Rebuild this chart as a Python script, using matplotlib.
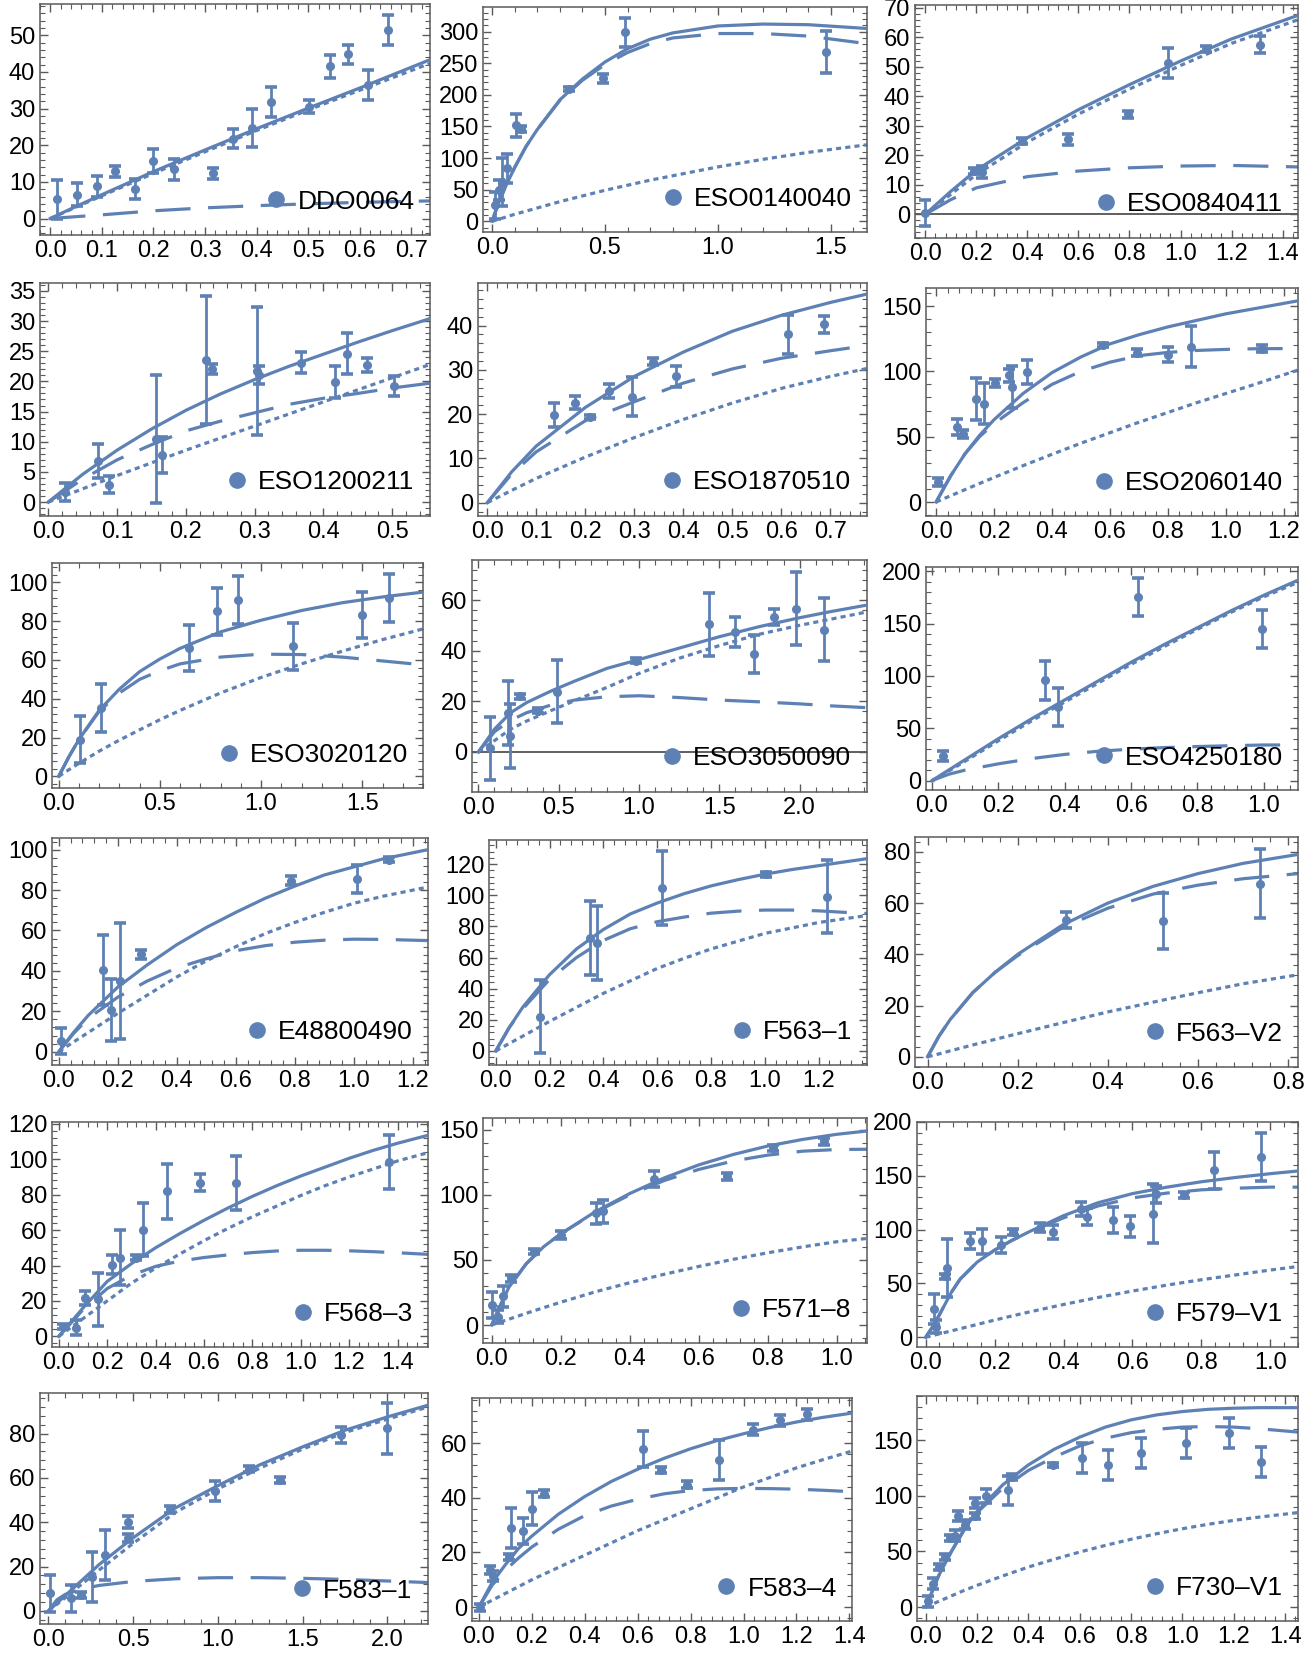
import matplotlib
matplotlib.use('Agg')
import matplotlib.pyplot as plt
from matplotlib.lines import Line2D
from matplotlib.ticker import AutoMinorLocator, FixedLocator, FuncFormatter

plt.rcParams['font.family'] = ['Liberation Sans', 'DejaVu Sans']

# ---------------- data ----------------
# 1 DDO0064
p01_name = "DDO0064"
p01_r = [0.013, 0.052, 0.09, 0.126, 0.164, 0.2, 0.239, 0.316, 0.354, 0.39, 0.427, 0.502, 0.542, 0.578, 0.615, 0.655]
p01_v = [5.2, 6.5, 8.8, 12.9, 8.0, 15.7, 13.4, 12.3, 21.8, 24.7, 31.8, 30.5, 41.5, 44.8, 36.5, 51.5]
p01_e = [5.3, 3.2, 2.8, 1.5, 2.8, 3.3, 2.8, 1.4, 2.6, 5.2, 4.1, 1.8, 3.1, 2.6, 4.1, 4.1]
p01_grid = [0, 0.05, 0.1, 0.2, 0.3, 0.4, 0.5, 0.6, 0.736]
p01_total = [0, 3.3, 6.5, 12.8, 18.7, 24.5, 30.1, 35.6, 43.3]
p01_dash = [0, 0.5, 1.0, 2.1, 2.9, 3.5, 4.0, 4.4, 4.8]
p01_dot = [0, 3.1, 6.2, 12.3, 18.2, 24.0, 29.6, 35.0, 42.3]
p01_xt = [0.0, 0.1, 0.2, 0.3, 0.4, 0.5, 0.6, 0.7]
p01_yt = [0, 10, 20, 30, 40, 50]

# 2 ESO0140040
p02_name = "ESO0140040"
p02_r = [0.015, 0.03, 0.045, 0.065, 0.105, 0.13, 0.34, 0.49, 0.59, 1.48]
p02_v = [25, 50, 62, 84, 152, 146, 209, 226, 299, 268]
p02_e = [22, 16, 38, 23, 18, 5, 3, 7, 23, 33]
p02_grid = [0, 0.03, 0.06, 0.1, 0.15, 0.2, 0.3, 0.4, 0.5, 0.6, 0.7, 0.8, 1.0, 1.2, 1.4, 1.66]
p02_total = [0, 30, 55, 85, 118, 145, 192, 225, 252, 273, 288, 298, 309, 312, 311, 305]
p02_dash = [0, 30, 55, 85, 118, 145, 191, 223, 248, 267, 281, 290, 297, 297, 293, 281]
p02_dot = [0, 3.2, 6.5, 11, 16, 21, 31, 40, 49, 57, 65, 72, 86, 98, 109, 121]
p02_xt = [0.0, 0.5, 1.0, 1.5]
p02_yt = [0, 50, 100, 150, 200, 250, 300]

# 3 ESO0840411
p03_name = "ESO0840411"
p03_r = [0.0, 0.19, 0.224, 0.38, 0.56, 0.794, 0.95, 1.1, 1.31]
p03_v = [0.5, 14.7, 14.3, 24.8, 25.4, 33.9, 51.4, 56.1, 57.6]
p03_e = [4.5, 1.0, 2.0, 1.0, 1.7, 1.2, 5.0, 1.0, 3.0]
p03_grid = [0, 0.1, 0.2, 0.4, 0.6, 0.8, 1.0, 1.2, 1.46]
p03_total = [0, 7.8, 15, 26, 35.5, 44, 52, 59.5, 67.5]
p03_dash = [0, 5, 9, 12.8, 14.7, 15.8, 16.4, 16.6, 16.1]
p03_dot = [0, 6.8, 13.5, 24.5, 34, 42.5, 50.5, 58, 66]
p03_xt = [0.0, 0.2, 0.4, 0.6, 0.8, 1.0, 1.2, 1.4]
p03_yt = [0, 10, 20, 30, 40, 50, 60, 70]

# 4 ESO1200211
p04_name = "ESO1200211"
p04_r = [0.024, 0.073, 0.089, 0.156, 0.165, 0.229, 0.238, 0.304, 0.307, 0.367, 0.417, 0.434, 0.463, 0.502]
p04_v = [1.7, 6.8, 2.9, 10.5, 7.8, 23.6, 22, 21.7, 21, 23.1, 19.9, 24.6, 22.7, 19.2]
p04_e = [1.5, 2.8, 1.4, 10.6, 3, 10.6, 0.8, 10.6, 1.5, 1.7, 2.7, 3.4, 1.2, 1.7]
p04_grid = [0, 0.05, 0.1, 0.15, 0.2, 0.25, 0.3, 0.35, 0.4, 0.45, 0.5, 0.555]
p04_total = [0, 4.6, 8.6, 12.1, 15.2, 17.9, 20.3, 22.5, 24.5, 26.5, 28.4, 30.4]
p04_dash = [0, 3.8, 7, 9.5, 11.8, 13.4, 14.8, 16.2, 17.2, 18, 18.9, 19.7]
p04_dot = [0, 2.2, 4.4, 6.5, 8.6, 10.6, 12.6, 14.6, 16.6, 18.6, 20.6, 22.8]
p04_xt = [0.0, 0.1, 0.2, 0.3, 0.4, 0.5]
p04_yt = [0, 5, 10, 15, 20, 25, 30, 35]

# 5 ESO1870510
p05_name = "ESO1870510"
p05_r = [0.136, 0.179, 0.21, 0.248, 0.296, 0.339, 0.386, 0.614, 0.688]
p05_v = [19.8, 22.6, 19.3, 25.2, 23.9, 31.8, 28.5, 38.0, 40.3]
p05_e = [2.7, 1.4, 0.5, 1.5, 4.4, 0.8, 2.3, 4.4, 1.9]
p05_grid = [0, 0.05, 0.1, 0.2, 0.3, 0.4, 0.5, 0.6, 0.7, 0.775]
p05_total = [0, 7, 12.8, 21.5, 28.5, 34, 38.7, 42.3, 45.2, 47.1]
p05_dash = [0, 6.5, 11.5, 18.5, 22.8, 27, 30.2, 32.6, 34.3, 35.5]
p05_dot = [0, 2.8, 5.5, 10.3, 14.7, 18.8, 22.5, 25.8, 28.5, 30.3]
p05_xt = [0.0, 0.1, 0.2, 0.3, 0.4, 0.5, 0.6, 0.7]
p05_yt = [0, 10, 20, 30, 40]

# 6 ESO2060140
p06_name = "ESO2060140"
p06_r = [0.006, 0.073, 0.093, 0.137, 0.166, 0.204, 0.253, 0.262, 0.314, 0.576, 0.693, 0.8, 0.88, 1.127]
p06_v = [15.3, 57.4, 52.3, 79, 75.3, 91.3, 97, 88, 99.5, 120, 114.3, 112.8, 119, 117.3]
p06_e = [3, 6.4, 3, 16, 15.5, 3, 5, 16, 9, 1.5, 2.5, 5.5, 16, 2.5]
p06_grid = [0, 0.05, 0.1, 0.15, 0.2, 0.3, 0.4, 0.5, 0.6, 0.7, 0.8, 0.9, 1.0, 1.1, 1.25]
p06_total = [0, 20, 37, 51, 63, 83, 99, 111, 121, 128, 134, 139, 144, 148, 154]
p06_dash = [0, 20, 37, 50, 60, 76, 90, 100, 107, 112, 114.5, 116, 116.8, 117.3, 117.5]
p06_dot = [0, 4.8, 9.5, 14.2, 18.8, 27.8, 36.5, 45, 53, 61, 68.5, 76, 83, 90, 101]
p06_xt = [0.0, 0.2, 0.4, 0.6, 0.8, 1.0, 1.2]
p06_yt = [0, 50, 100, 150]

# 7 ESO3020120
p07_name = "ESO3020120"
p07_r = [0.104, 0.208, 0.646, 0.783, 0.888, 1.158, 1.5, 1.633]
p07_v = [18.9, 35.2, 66.2, 85, 91, 67, 83.3, 92]
p07_e = [12.2, 12.3, 12, 12.2, 12.3, 12.2, 12, 12.3]
p07_grid = [0, 0.05, 0.1, 0.2, 0.3, 0.4, 0.5, 0.6, 0.8, 1.0, 1.2, 1.4, 1.6, 1.8]
p07_total = [0, 10, 19, 34, 45, 54, 60.5, 66, 74.5, 80.5, 85.5, 89.5, 92.5, 95]
p07_dash = [0, 10, 19, 33.5, 43, 50, 54.5, 58, 61.5, 63, 62.8, 61.5, 59.5, 57.5]
p07_dot = [0, 3.4, 6.7, 13, 18.7, 24, 29.2, 34, 43, 51, 58, 64.5, 70.5, 76]
p07_xt = [0.0, 0.5, 1.0, 1.5]
p07_yt = [0, 20, 40, 60, 80, 100]

# 8 ESO3050090
p08_name = "ESO3050090"
p08_r = [0.075, 0.185, 0.195, 0.26, 0.37, 0.49, 0.98, 1.435, 1.6, 1.715, 1.84, 1.98, 2.15]
p08_v = [1.4, 15.4, 6.2, 22, 16.3, 23.8, 36, 50.4, 47.4, 38.8, 53.3, 56.6, 48.3]
p08_e = [12.6, 12.6, 12.6, 1, 1, 12.4, 1, 12.5, 6, 7.5, 3, 14.5, 12.5]
p08_grid = [0, 0.1, 0.2, 0.3, 0.45, 0.6, 0.8, 1.0, 1.25, 1.5, 1.75, 2.0, 2.2, 2.42]
p08_total = [0, 9, 15.5, 19.5, 24, 28, 33, 36.5, 41, 45.5, 49.5, 53, 55.5, 58]
p08_dash = [0, 8, 12.5, 15.5, 18.5, 20.5, 21.8, 22.2, 21.5, 20.5, 19.8, 19, 18.2, 17.5]
p08_dot = [0, 4.5, 9, 12.2, 16.3, 20.3, 25.5, 31, 37, 42, 46.5, 50, 52.5, 55.3]
p08_xt = [0.0, 0.5, 1.0, 1.5, 2.0]
p08_yt = [0, 20, 40, 60]

# 9 ESO4250180
p09_name = "ESO4250180"
p09_r = [0.033, 0.342, 0.38, 0.62, 0.995]
p09_v = [23.6, 95.7, 70.2, 175.4, 144.8]
p09_e = [4.5, 18.5, 18.3, 18.3, 18]
p09_grid = [0, 0.05, 0.1, 0.2, 0.3, 0.4, 0.5, 0.6, 0.7, 0.8, 0.9, 1.0, 1.1]
p09_total = [0, 10, 20, 40, 59, 77, 95, 113, 130, 146, 162, 177, 191]
p09_dash = [0, 6, 10, 16, 21, 25, 28, 30, 31.5, 32.5, 33.3, 34, 34]
p09_dot = [0, 9, 18.5, 38, 57, 75, 93, 111, 128, 144.5, 160.5, 175.5, 189]
p09_xt = [0.0, 0.2, 0.4, 0.6, 0.8, 1.0]
p09_yt = [0, 50, 100, 150, 200]

# 10 E48800490
p10_name = "E48800490"
p10_r = [0.006, 0.151, 0.177, 0.206, 0.28, 0.786, 1.009, 1.12]
p10_v = [5.3, 40.5, 20.7, 35, 48.3, 84.6, 85.6, 95]
p10_e = [6.6, 17.5, 15.5, 28.5, 2.2, 2.3, 7, 1.2]
p10_grid = [0, 0.05, 0.1, 0.2, 0.3, 0.4, 0.5, 0.6, 0.7, 0.8, 0.9, 1.0, 1.1, 1.25]
p10_total = [0, 9.5, 18, 32, 43, 53, 61.5, 69, 76, 82, 87.5, 91.5, 95.5, 100]
p10_dash = [0, 9, 16.5, 27, 35, 41.5, 46, 50, 52.5, 54.2, 55.2, 55.7, 55.6, 55]
p10_dot = [0, 4.8, 9.5, 19, 28, 37, 45, 52, 58.5, 64, 69, 73.5, 77, 81.5]
p10_xt = [0.0, 0.2, 0.4, 0.6, 0.8, 1.0, 1.2]
p10_yt = [0, 20, 40, 60, 80, 100]

# 11 F563-1
p11_name = "F563\u20131"
p11_r = [0.163, 0.352, 0.377, 0.619, 1.005, 1.23]
p11_v = [22, 72.4, 69.2, 104.5, 113.5, 99.1]
p11_e = [23.5, 23.9, 23.8, 23.8, 1.5, 23.5]
p11_grid = [0, 0.05, 0.1, 0.2, 0.3, 0.4, 0.5, 0.6, 0.7, 0.8, 0.9, 1.0, 1.1, 1.2, 1.3, 1.38]
p11_total = [0, 15, 28, 49, 65.5, 78, 88, 95, 101, 106, 110, 113.5, 116.5, 119, 121.5, 123.5]
p11_dash = [0, 15, 27, 46, 60, 71, 78.5, 83, 86, 88.5, 89.8, 90.5, 90.5, 90, 89, 88.3]
p11_dot = [0, 4.8, 9.5, 19, 28, 37, 45, 53, 59.5, 65.5, 70.5, 75.5, 79, 82.5, 85, 87]
p11_xt = [0.0, 0.2, 0.4, 0.6, 0.8, 1.0, 1.2]
p11_yt = [0, 20, 40, 60, 80, 100, 120]

# 12 F563-V2
p12_name = "F563\u2013V2"
p12_r = [0.308, 0.523, 0.738]
p12_v = [53.3, 52.9, 67.6]
p12_e = [3.1, 10.9, 13.5]
p12_grid = [0, 0.025, 0.05, 0.1, 0.15, 0.2, 0.3, 0.4, 0.5, 0.6, 0.7, 0.822]
p12_total = [0, 8, 14.5, 25, 33, 40, 51.5, 60, 66.5, 71.5, 75.5, 79]
p12_dash = [0, 8, 14.5, 25, 33, 39.5, 50.5, 58, 63.5, 67, 69.5, 71.5]
p12_dot = [0, 1.1, 2.3, 4.6, 6.8, 9, 13.3, 17.5, 21.3, 25, 28.5, 32]
p12_xt = [0.0, 0.2, 0.4, 0.6, 0.8]
p12_yt = [0, 20, 40, 60, 80]

# 13 F568-3
p13_name = "F568\u20133"
p13_r = [0.017, 0.07, 0.11, 0.164, 0.22, 0.254, 0.32, 0.348, 0.446, 0.585, 0.732, 1.366]
p13_v = [5.5, 5, 21.5, 21, 40.4, 44.5, 44.5, 60.3, 81.8, 86.8, 86.4, 98.5]
p13_e = [1.5, 4.5, 4, 15, 5.4, 15.3, 1.5, 15.2, 15.3, 4.6, 15.2, 15.3]
p13_grid = [0, 0.1, 0.2, 0.3, 0.4, 0.5, 0.6, 0.7, 0.8, 0.9, 1.0, 1.1, 1.2, 1.3, 1.4, 1.526]
p13_total = [0, 16, 31, 41, 50, 58, 65.5, 72.5, 79, 85, 90.5, 95.5, 100.5, 105, 109, 113.5]
p13_dash = [0, 15, 27, 34.5, 39.5, 42.5, 44.5, 46, 47.3, 48.2, 48.6, 48.6, 48.3, 47.8, 47.2, 46.3]
p13_dot = [0, 10, 20, 30, 38.5, 46.5, 54, 61, 67.5, 73.5, 79.5, 85, 90, 94.5, 99, 103.7]
p13_xt = [0.0, 0.2, 0.4, 0.6, 0.8, 1.0, 1.2, 1.4]
p13_yt = [0, 20, 40, 60, 80, 100, 120]

# 14 F571-8
p14_name = "F571\u20138"
p14_r = [0.0, 0.017, 0.032, 0.055, 0.124, 0.2, 0.303, 0.323, 0.471, 0.682, 0.814, 0.963]
p14_v = [15.4, 6.4, 22, 35.9, 56.4, 69.2, 85.9, 87.2, 112, 114.1, 135.9, 141]
p14_e = [10, 5, 8, 2.6, 2, 3, 8, 9, 6, 3, 2, 2.5]
p14_grid = [0, 0.025, 0.05, 0.1, 0.15, 0.2, 0.3, 0.4, 0.5, 0.6, 0.7, 0.8, 0.9, 1.0, 1.087]
p14_total = [0, 15, 29, 47, 60, 70, 87, 101, 113, 123, 131, 137.5, 142.5, 146.5, 149]
p14_dash = [0, 15, 29, 47, 60, 70, 86.5, 100, 111, 119.5, 126, 130.5, 133.5, 134.8, 135]
p14_dot = [0, 2.3, 4.5, 9, 13.3, 17.5, 25.5, 32.5, 39, 45, 50.5, 55.5, 60, 64, 66.5]
p14_xt = [0.0, 0.2, 0.4, 0.6, 0.8, 1.0]
p14_yt = [0, 50, 100, 150]

# 15 F579-V1
p15_name = "F579\u2013V1"
p15_r = [0.025, 0.03, 0.056, 0.062, 0.129, 0.163, 0.22, 0.254, 0.332, 0.369, 0.45, 0.467, 0.543, 0.593, 0.66, 0.668, 0.75, 0.835, 0.973]
p15_v = [26, 10, 56.5, 64, 89.5, 89, 86, 98, 102, 98, 119.5, 112, 109, 103, 115, 133, 132, 155, 167.5]
p15_e = [14, 6, 2.5, 27, 7.5, 12, 7.5, 3, 4, 6.5, 6.5, 8, 12.5, 10, 27, 8, 3, 17.5, 22.5]
p15_grid = [0, 0.025, 0.05, 0.075, 0.1, 0.15, 0.2, 0.25, 0.3, 0.4, 0.5, 0.6, 0.7, 0.8, 0.9, 1.0, 1.08]
p15_total = [0, 12, 27, 42, 54, 70, 81, 90, 98, 113, 125, 133.5, 139.5, 144.5, 148.5, 152, 154.5]
p15_dash = [0, 12, 27, 42, 54, 70, 81, 90, 97.5, 111, 122, 129.5, 134, 137, 138.5, 139.5, 139.5]
p15_dot = [0, 2, 4, 6, 8, 12, 16, 19.8, 23.5, 30.5, 37, 43, 48.5, 53.5, 58, 62.5, 65.8]
p15_xt = [0.0, 0.2, 0.4, 0.6, 0.8, 1.0]
p15_yt = [0, 50, 100, 150, 200]

# 16 F583-1
p16_name = "F583\u20131"
p16_r = [0.01, 0.134, 0.194, 0.259, 0.333, 0.468, 0.468, 0.716, 0.98, 1.184, 1.368, 1.726, 2.0]
p16_v = [8, 5.7, 7.2, 15.5, 25.2, 40.2, 32.7, 45.8, 54, 64, 59, 79.3, 82.3]
p16_e = [8.4, 6, 1.5, 11.3, 11.3, 2.6, 1.8, 1.5, 4.5, 1.5, 1.5, 3.6, 11.3]
p16_grid = [0, 0.05, 0.1, 0.2, 0.3, 0.5, 0.75, 1.0, 1.25, 1.5, 1.75, 2.0, 2.24]
p16_total = [0, 3.5, 7, 14, 21, 33, 46.5, 56.5, 66, 74, 81.5, 87.5, 92.8]
p16_dash = [0, 5, 7.5, 10, 11.5, 13.3, 14.5, 15, 15, 14.7, 14.2, 13.5, 12.8]
p16_dot = [0, 3, 6, 12.3, 18.5, 30.5, 44.5, 55, 64.5, 73, 80.5, 86.5, 92]
p16_xt = [0.0, 0.5, 1.0, 1.5, 2.0]
p16_yt = [0, 20, 40, 60, 80]

# 17 F583-4
p17_name = "F583\u20134"
p17_r = [0.006, 0.042, 0.055, 0.112, 0.122, 0.167, 0.202, 0.247, 0.619, 0.689, 0.785, 0.907, 1.035, 1.138, 1.24]
p17_v = [0, 13.5, 11.5, 18.4, 29, 27.8, 36.1, 41.6, 57.9, 50.2, 44.9, 53.9, 64.9, 68.5, 70.6]
p17_e = [1.3, 1.5, 1.8, 1.2, 7.2, 4.7, 6, 1.2, 6.5, 1.2, 1.2, 7.3, 2, 2, 2]
p17_grid = [0, 0.05, 0.1, 0.15, 0.2, 0.3, 0.4, 0.5, 0.6, 0.7, 0.8, 0.9, 1.0, 1.1, 1.2, 1.3, 1.405]
p17_total = [0, 9, 15.5, 21.5, 26, 34, 40.5, 46, 50.5, 54.5, 58, 61, 63.5, 65.8, 67.8, 69.5, 71]
p17_dash = [0, 8, 13.5, 18, 22, 28.5, 33.5, 37, 39.5, 41.5, 42.7, 43.3, 43.5, 43.4, 43.2, 42.8, 42.3]
p17_dot = [0, 2.5, 5, 7.5, 10, 14.5, 19, 23.5, 28, 32, 36, 40, 44, 47.5, 51, 54, 57]
p17_xt = [0.0, 0.2, 0.4, 0.6, 0.8, 1.0, 1.2, 1.4]
p17_yt = [0, 20, 40, 60]

# 18 F730-V1
p18_name = "F730\u2013V1"
p18_r = [0.007, 0.03, 0.05, 0.074, 0.095, 0.114, 0.127, 0.153, 0.19, 0.192, 0.235, 0.319, 0.335, 0.497, 0.608, 0.711, 0.839, 1.013, 1.18, 1.305]
p18_v = [5, 21, 36, 45, 62, 64, 82, 74, 82, 94, 100, 105, 117, 128, 134, 127.5, 139, 148, 157, 130.5]
p18_e = [5, 5, 3, 3, 3, 5, 4.5, 4, 3, 4.5, 6, 13.3, 3, 2, 13.3, 13.5, 13.5, 13.5, 13.5, 13.5]
p18_grid = [0, 0.05, 0.1, 0.15, 0.2, 0.3, 0.4, 0.5, 0.6, 0.7, 0.8, 0.9, 1.0, 1.1, 1.2, 1.3, 1.45]
p18_total = [0, 28, 50, 70, 86, 110, 128, 142, 153, 162, 168.5, 173, 176, 178, 179, 179.5, 179.5]
p18_dash = [0, 28, 50, 69.5, 85, 107, 123, 135, 145, 152, 157, 160, 162, 162.5, 162, 160.5, 157.5]
p18_dot = [0, 5, 10, 15, 19.5, 28, 36, 43, 49.5, 55.5, 61, 66, 70.5, 74.5, 78, 81, 85]
p18_xt = [0.0, 0.2, 0.4, 0.6, 0.8, 1.0, 1.2, 1.4]
p18_yt = [0, 50, 100, 150]

panels = [
    (p01_name, p01_r, p01_v, p01_e, p01_grid, p01_total, p01_dash, p01_dot, p01_xt, p01_yt),
    (p02_name, p02_r, p02_v, p02_e, p02_grid, p02_total, p02_dash, p02_dot, p02_xt, p02_yt),
    (p03_name, p03_r, p03_v, p03_e, p03_grid, p03_total, p03_dash, p03_dot, p03_xt, p03_yt),
    (p04_name, p04_r, p04_v, p04_e, p04_grid, p04_total, p04_dash, p04_dot, p04_xt, p04_yt),
    (p05_name, p05_r, p05_v, p05_e, p05_grid, p05_total, p05_dash, p05_dot, p05_xt, p05_yt),
    (p06_name, p06_r, p06_v, p06_e, p06_grid, p06_total, p06_dash, p06_dot, p06_xt, p06_yt),
    (p07_name, p07_r, p07_v, p07_e, p07_grid, p07_total, p07_dash, p07_dot, p07_xt, p07_yt),
    (p08_name, p08_r, p08_v, p08_e, p08_grid, p08_total, p08_dash, p08_dot, p08_xt, p08_yt),
    (p09_name, p09_r, p09_v, p09_e, p09_grid, p09_total, p09_dash, p09_dot, p09_xt, p09_yt),
    (p10_name, p10_r, p10_v, p10_e, p10_grid, p10_total, p10_dash, p10_dot, p10_xt, p10_yt),
    (p11_name, p11_r, p11_v, p11_e, p11_grid, p11_total, p11_dash, p11_dot, p11_xt, p11_yt),
    (p12_name, p12_r, p12_v, p12_e, p12_grid, p12_total, p12_dash, p12_dot, p12_xt, p12_yt),
    (p13_name, p13_r, p13_v, p13_e, p13_grid, p13_total, p13_dash, p13_dot, p13_xt, p13_yt),
    (p14_name, p14_r, p14_v, p14_e, p14_grid, p14_total, p14_dash, p14_dot, p14_xt, p14_yt),
    (p15_name, p15_r, p15_v, p15_e, p15_grid, p15_total, p15_dash, p15_dot, p15_xt, p15_yt),
    (p16_name, p16_r, p16_v, p16_e, p16_grid, p16_total, p16_dash, p16_dot, p16_xt, p16_yt),
    (p17_name, p17_r, p17_v, p17_e, p17_grid, p17_total, p17_dash, p17_dot, p17_xt, p17_yt),
    (p18_name, p18_r, p18_v, p18_e, p18_grid, p18_total, p18_dash, p18_dot, p18_xt, p18_yt),
]

# ---------------- layout (pixel frame boxes and axis ranges) ----------------
W, H = 1309, 1654
# (left, top, right, bottom, xmin, xmax, ymin, ymax, draw zero line)
layout = [
    (40, 4, 430, 235, -0.02, 0.736, -4.5, 58.5, False),
    (483, 7, 867, 232, -0.04, 1.66, -17, 339, False),
    (915, 5, 1298, 238, -0.04, 1.46, -8, 71, True),
    (40, 283, 430, 516, -0.012, 0.555, -2.3, 36.3, False),
    (478, 283, 867, 516, -0.019, 0.775, -3, 49.6, False),
    (926, 288, 1298, 516, -0.035, 1.25, -10.7, 163.8, False),
    (52, 563, 423, 788, -0.033, 1.8, -6, 110, False),
    (472, 560, 867, 792, -0.04, 2.42, -15.8, 75.8, True),
    (926, 567, 1298, 790, -0.018, 1.103, -9, 204, False),
    (52, 838, 428, 1065, -0.023, 1.251, -6.6, 105.8, False),
    (489, 840, 867, 1065, -0.025, 1.38, -9, 135.5, False),
    (915, 837, 1298, 1067, -0.028, 0.822, -4, 85.8, False),
    (52, 1122, 428, 1347, -0.028, 1.526, -6, 121, False),
    (483, 1118, 867, 1343, -0.025, 1.087, -13.8, 159, False),
    (917, 1122, 1298, 1347, -0.025, 1.08, -9, 200, False),
    (40, 1393, 428, 1624, -0.05, 2.24, -5.9, 98.3, False),
    (472, 1398, 852, 1621, -0.026, 1.41, -5.1, 76.6, False),
    (917, 1396, 1298, 1621, -0.034, 1.45, -12.6, 190, False),
]

C = '#5E81B5'
FRAME = '#5a5a5a'
LEG_FONT = {'family': ['Liberation Sans', 'DejaVu Sans'], 'size': 19}

fig = plt.figure(figsize=(W / 100, H / 100), dpi=100)

xfmt = FuncFormatter(lambda v, p: f"{v:.1f}")
yfmt = FuncFormatter(lambda v, p: f"{v:.0f}")

for (name, r, v, e, g, tot, da, do, xt, yt), (l, t, rr, b, x0, x1, y0, y1, zl) in zip(panels, layout):
    ax = fig.add_axes([l / W, 1 - b / H, (rr - l) / W, (b - t) / H])
    if zl:
        ax.axhline(0, color='#444444', lw=1.2, zorder=1)
    ax.plot(g, do, color=C, lw=2.3, ls=(0, (1.6, 1.3)), zorder=2)
    ax.plot(g, da, color=C, lw=2.3, ls=(0, (11, 5.5)), zorder=2)
    ax.plot(g, tot, color=C, lw=2.3, zorder=3)
    ax.errorbar(r, v, yerr=e, fmt='o', ms=5.5, color=C, ecolor=C, elinewidth=2.0,
                capsize=4.4, capthick=2.6, zorder=4)
    ax.set_xlim(x0, x1)
    ax.set_ylim(y0, y1)
    ax.xaxis.set_major_locator(FixedLocator(xt))
    ax.yaxis.set_major_locator(FixedLocator(yt))
    ax.xaxis.set_minor_locator(AutoMinorLocator(5))
    ax.yaxis.set_minor_locator(AutoMinorLocator(5))
    ax.xaxis.set_major_formatter(xfmt)
    ax.yaxis.set_major_formatter(yfmt)
    ax.tick_params(which='both', direction='in', top=True, right=True, color=FRAME)
    ax.tick_params(which='major', length=6, width=1.0, labelsize=17, pad=3.5)
    ax.tick_params(which='minor', length=3.5, width=0.8)
    for s in ax.spines.values():
        s.set_color(FRAME)
        s.set_linewidth(1.1)
    h = Line2D([], [], ls='', marker='o', ms=11, color=C)
    ax.legend([h], [name], loc='center right', bbox_to_anchor=(0.96, 0.145),
              frameon=False, handlelength=1.0, handletextpad=0.3, borderpad=0,
              borderaxespad=0, prop=LEG_FONT)

fig.savefig('out.png', dpi=100)
